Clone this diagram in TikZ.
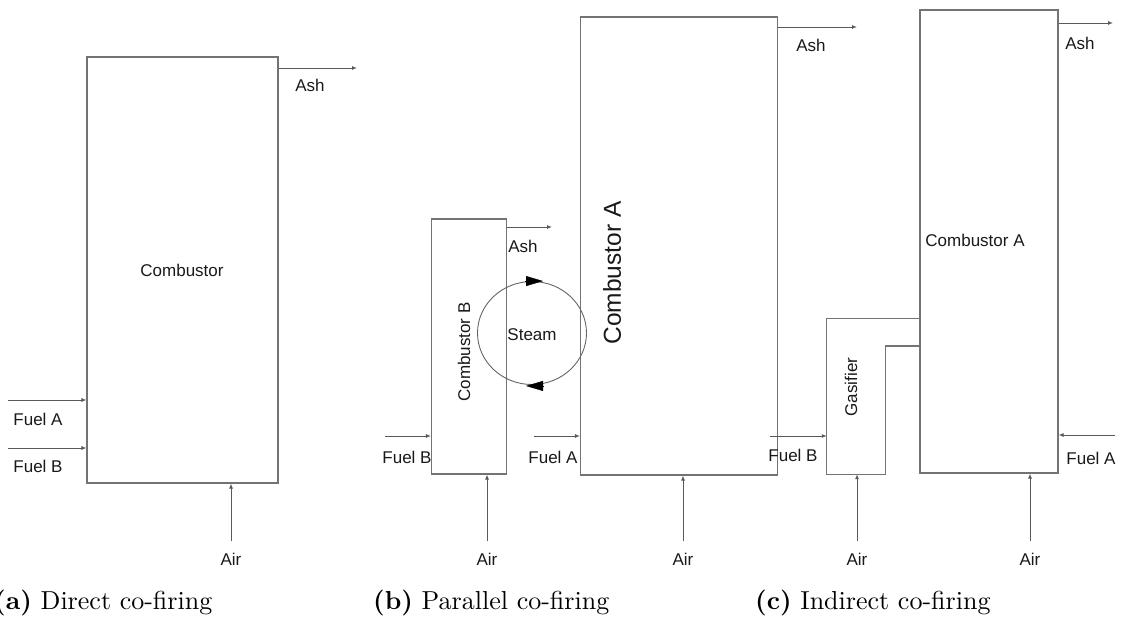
\documentclass[tikz,border=0pt]{standalone}
\usepackage{fontspec}
\newfontfamily\arialf{Liberation Sans}
\newfontfamily\capf{lmroman10-regular.otf}[BoldFont=lmroman10-bold.otf]
\usetikzlibrary{arrows.meta,shapes.geometric,calc}
\begin{document}
\begin{tikzpicture}[x=1pt,y=-1pt,
  box/.style={draw=black!55,line width=1.1pt,inner sep=0pt,rectangle},
  flow/.style={draw=black!65,line width=0.9pt,-{Latex[length=5pt,width=4pt]}},
  lbl/.style={font=\arialf\fontsize{17}{20}\selectfont,inner sep=0pt,text=black!90},
  biglbl/.style={font=\arialf\fontsize{24.5}{28}\selectfont,inner sep=0pt,text=black!90},
  steamtip/.style={draw=black,line width=0.4pt,-{Triangle[length=17pt,width=10pt]}},
  captext/.style={font=\capf\fontsize{26}{30}\selectfont,inner sep=0pt,anchor=base west}]
\useasboundingbox (0,0) rectangle (1121,629);

% ---------------- (a) ----------------
\node[box,minimum width=191pt,minimum height=426pt] (comb) at (182.5,270) {};
\node[lbl] (combl) at (182,270) {Combustor};
\coordinate (faS) at (8,400);
\coordinate (fbS) at (8,448);
\coordinate (ashE) at (357,68);
\coordinate (airS) at (231,541);
\draw[flow] (faS) -- (comb.west |- faS);
\draw[flow] (fbS) -- (comb.west |- fbS);
\draw[flow] (comb.east |- ashE) -- (ashE);
\draw[flow] (airS) -- (airS |- comb.south);
\node[lbl] (faL) at (38,419) {Fuel A};
\node[lbl] (fbL) at (38,466) {Fuel B};
\node[lbl] (ashL) at (310,85) {Ash};
\node[lbl] (airL) at (231,559) {Air};

% ---------------- (b) ----------------
\node[box,minimum width=75pt,minimum height=255pt] (cb) at (469,346.5) {};
\node[lbl,rotate=90] (cbl) at (464,352) {Combustor B};
\node[box,minimum width=197pt,minimum height=458pt] (ca) at (679,246) {};
\node[biglbl,rotate=90] (cal) at (612,273) {Combustor A};
\node[ellipse,draw=black!60,line width=0.9pt,minimum width=109pt,minimum height=103pt,inner sep=0pt] (steam) at (532,333) {};
\node[lbl] (steaml) at (532,335) {Steam};
\draw[steamtip] ([xshift=-7pt]steam.north) -- ([xshift=11pt]steam.north);
\draw[steamtip] ([xshift=12pt,yshift=-1pt]steam.south) -- ([xshift=-6pt,yshift=-1pt]steam.south);
\coordinate (bfbS) at (385,436);
\coordinate (bfaS) at (534,436);
\coordinate (bashB) at (552,227);
\coordinate (bashA) at (857,27);
\coordinate (bairB) at (487,541);
\coordinate (bairA) at (683,541);
\draw[flow] (bfbS) -- (cb.west |- bfbS);
\draw[flow] (bfaS) -- (ca.west |- bfaS);
\draw[flow] (cb.east |- bashB) -- (bashB);
\draw[flow] (ca.east |- bashA) -- (bashA);
\draw[flow] (bairB) -- (bairB |- cb.south);
\draw[flow] (bairA) -- (bairA |- ca.south);
\node[lbl] (bfbL) at (407,457) {Fuel B};
\node[lbl] (bfaL) at (553,457) {Fuel A};
\node[lbl] (bashBL) at (523,246) {Ash};
\node[lbl] (bashAL) at (811,45) {Ash};
\node[lbl] (bairBL) at (487,559) {Air};
\node[lbl] (bairAL) at (683,559) {Air};

% ---------------- (c) ----------------
\node[box,minimum width=138pt,minimum height=463pt] (cc) at (989,241.5) {};
\node[lbl] (ccl) at (975,240) {Combustor A};
\node[inner sep=0pt,minimum width=58pt,minimum height=155pt] (gas) at (856,396.5) {};
\coordinate (gstep) at (885,346);
\draw[draw=black!55,line width=1.1pt] (cc.west |- gas.north) -- (gas.north west) -- (gas.south west) -- (gas.south east) -- (gas.east |- gstep) -- (cc.west |- gstep);
\node[lbl,rotate=90] (gasl) at (851,387) {Gasifier};
\coordinate (cfbS) at (770,436);
\coordinate (cfaS) at (1115,435);
\coordinate (cash) at (1113,23);
\coordinate (cairG) at (857,541);
\coordinate (cairC) at (1030,541);
\draw[flow] (cfbS) -- (gas.west |- cfbS);
\draw[flow] (cfaS) -- (cc.east |- cfaS);
\draw[flow] (cc.east |- cash) -- (cash);
\draw[flow] (cairG) -- (cairG |- gas.south);
\draw[flow] (cairC) -- (cairC |- cc.south);
\node[lbl] (cfbL) at (793,455) {Fuel B};
\node[lbl] (cfaL) at (1091,458) {Fuel A};
\node[lbl] (cashL) at (1080,43) {Ash};
\node[lbl] (cairGL) at (857,559) {Air};
\node[lbl] (cairCL) at (1030,559) {Air};

% ---------------- captions ----------------
\node[captext] (capa) at (-6,609) {\textbf{(a)} Direct co-firing};
\node[captext] (capb) at (373,609) {\textbf{(b)} Parallel co-firing};
\node[captext] (capc) at (755,609) {\textbf{(c)} Indirect co-firing};
\end{tikzpicture}
\end{document}
